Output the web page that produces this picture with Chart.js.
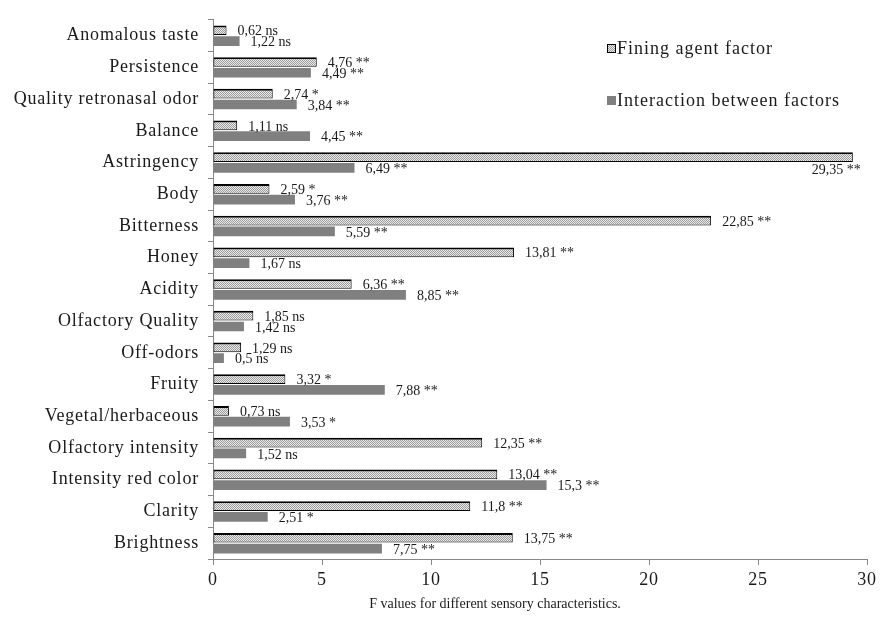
<!DOCTYPE html>
<html>
<head>
<meta charset="utf-8">
<script src="https://cdn.jsdelivr.net/npm/chart.js@4.4.1/dist/chart.umd.min.js"></script>
<style>
  html, body { margin: 0; padding: 0; background: #fff; }
  #wrap { width: 880px; height: 621px; }
</style>
</head>
<body>
<div id="wrap"><canvas id="c" width="880" height="621"></canvas></div>
<script>
// Sensory attributes (top to bottom)
const categories = [
  'Anomalous taste', 'Persistence', 'Quality retronasal odor', 'Balance',
  'Astringency', 'Body', 'Bitterness', 'Honey', 'Acidity',
  'Olfactory Quality', 'Off-odors', 'Fruity', 'Vegetal/herbaceous',
  'Olfactory intensity', 'Intensity red color', 'Clarity', 'Brightness'
];

// F values
const finingAgent = [0.62, 4.76, 2.74, 1.11, 29.35, 2.59, 22.85, 13.81, 6.36, 1.85, 1.29, 3.32, 0.73, 12.35, 13.04, 11.8, 13.75];
const interaction = [1.22, 4.49, 3.84, 4.45, 6.49, 3.76, 5.59, 1.67, 8.85, 1.42, 0.5, 7.88, 3.53, 1.52, 15.3, 2.51, 7.75];

// Significance marks
const finingSig = ['ns', '**', '*', 'ns', '**', '*', '**', '**', '**', 'ns', 'ns', '*', 'ns', '**', '**', '**', '**'];
const interactionSig = ['ns', '**', '**', '**', '**', '**', '**', 'ns', '**', 'ns', 'ns', '**', '*', 'ns', '**', '*', '**'];

const xTicks = [0, 5, 10, 15, 20, 25, 30];
const seriesNames = ['Fining agent factor', 'Interaction between factors'];
const xTitle = 'F values for different sensory characteristics.';

const SERIF = '"Liberation Serif", "Times New Roman", serif';

// Dotted crosshatch fill for the fining agent bars
function makePattern() {
  const p = document.createElement('canvas');
  p.width = 4; p.height = 4;
  const g = p.getContext('2d');
  g.fillStyle = '#ececec';
  g.fillRect(0, 0, 4, 4);
  g.fillStyle = '#9a9a9a';
  for (let y = 0; y < 4; y++) {
    for (let x = 0; x < 4; x++) {
      if ((x + y) % 2 === 0) g.fillRect(x, y, 1, 1);
    }
  }
  return document.getElementById('c').getContext('2d').createPattern(p, 'repeat');
}
const hatch = makePattern();

function fmt(v) { return String(v).replace('.', ','); }

// Slightly spaced lettering for the axis labels
const axisLetterSpacing = {
  id: 'axisLetterSpacing',
  beforeDraw(chart) { chart.ctx.letterSpacing = '0.8px'; },
  beforeDatasetsDraw(chart) { chart.ctx.letterSpacing = '0px'; }
};

// Value + significance labels next to each bar
const valueLabels = {
  id: 'valueLabels',
  afterDatasetsDraw(chart) {
    const ctx = chart.ctx;
    const area = chart.chartArea;
    ctx.save();
    ctx.letterSpacing = '0px';
    ctx.font = '14px ' + SERIF;
    ctx.fillStyle = '#1a1a1a';
    ctx.textBaseline = 'middle';
    chart.data.datasets.forEach((ds, di) => {
      const meta = chart.getDatasetMeta(di);
      const sig = di === 0 ? finingSig : interactionSig;
      meta.data.forEach((bar, i) => {
        const txt = fmt(ds.data[i]) + ' ' + sig[i];
        const w = ctx.measureText(txt).width;
        let x = bar.x + 11;
        let y = bar.y + 1.5;
        ctx.textAlign = 'left';
        if (x + w > area.right) {
          ctx.textAlign = 'right';
          x = bar.x + 8;
          y = bar.y + 13;
        }
        ctx.fillText(txt, x, y);
      });
    });
    ctx.restore();
  }
};

// Legend inside the plot (upper right) and the x-axis caption
const annotations = {
  id: 'annotations',
  afterDraw(chart) {
    const ctx = chart.ctx;
    const x = 607, ys = [49, 101];
    ctx.save();
    ctx.letterSpacing = '1px';
    ctx.font = '18px ' + SERIF;
    ctx.textBaseline = 'middle';
    ctx.textAlign = 'left';
    chart.data.datasets.forEach((ds, i) => {
      const y = ys[i];
      ctx.fillStyle = ds.backgroundColor;
      ctx.fillRect(x, y - 5, 9, 9);
      if (i === 0) {
        ctx.strokeStyle = '#000';
        ctx.lineWidth = 1;
        ctx.strokeRect(x + 0.5, y - 4.5, 8, 8);
      }
      ctx.fillStyle = '#1a1a1a';
      ctx.fillText(seriesNames[i], x + 10, y);
    });

    ctx.letterSpacing = '0px';
    ctx.font = '14px ' + SERIF;
    ctx.textAlign = 'center';
    ctx.fillText(xTitle, 495, 604);
    ctx.restore();
  }
};

new Chart(document.getElementById('c'), {
  type: 'bar',
  data: {
    labels: categories,
    datasets: [
      {
        label: seriesNames[0],
        data: finingAgent,
        backgroundColor: hatch,
        borderColor: '#000',
        borderWidth: { top: 2, bottom: 1, left: 1, right: 1 },
        borderSkipped: false,
        categoryPercentage: 0.68,
        barPercentage: 0.9
      },
      {
        label: seriesNames[1],
        data: interaction,
        backgroundColor: '#808080',
        borderWidth: 0,
        categoryPercentage: 0.68,
        barPercentage: 0.9
      }
    ]
  },
  options: {
    indexAxis: 'y',
    responsive: false,
    animation: false,
    devicePixelRatio: 1,
    layout: { padding: { left: 0, right: 12, top: 13, bottom: 0 } },
    plugins: {
      legend: { display: false },
      tooltip: { enabled: false }
    },
    scales: {
      x: {
        min: 0,
        max: 30,
        afterBuildTicks(scale) { scale.ticks = xTicks.map(v => ({ value: v })); },
        afterFit(scale) { scale.height = 62; },
        border: { color: '#888', width: 1 },
        grid: { drawOnChartArea: false, drawTicks: true, tickLength: 6, color: '#888' },
        ticks: {
          color: '#1a1a1a',
          font: { family: SERIF, size: 18 },
          padding: 4,
          maxRotation: 0
        }
      },
      y: {
        afterFit(scale) { scale.width = 213; },
        border: { color: '#888', width: 1 },
        grid: { drawOnChartArea: false, drawTicks: true, tickLength: 5, color: '#888', offset: true },
        ticks: {
          color: '#1a1a1a',
          font: { family: SERIF, size: 18 },
          padding: 9,
          autoSkip: false
        }
      }
    }
  },
  plugins: [axisLetterSpacing, valueLabels, annotations]
});
</script>
</body>
</html>
